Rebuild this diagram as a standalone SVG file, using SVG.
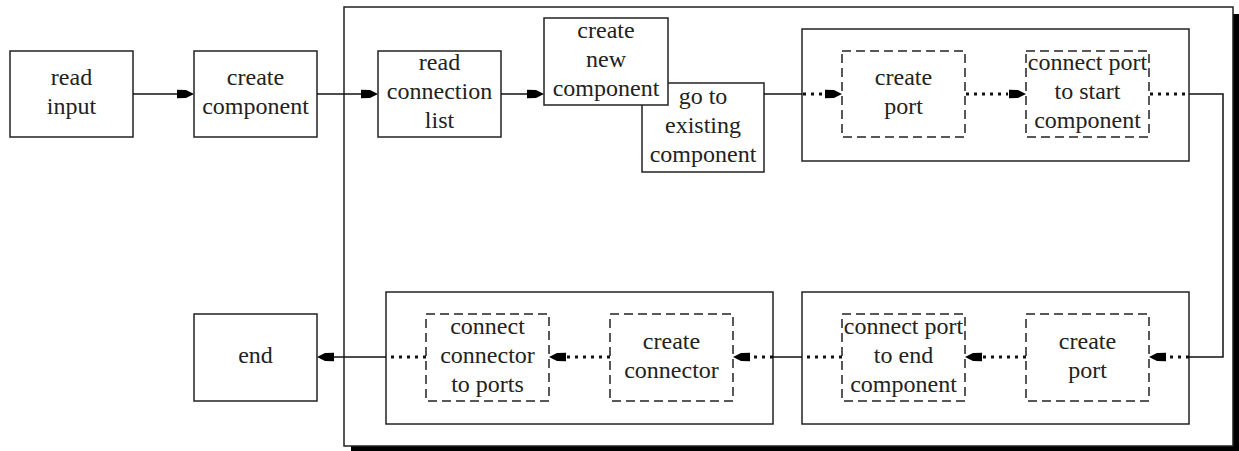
<svg xmlns="http://www.w3.org/2000/svg" width="1239" height="451" viewBox="0 0 1239 451">
<style>
.box{fill:#fff;stroke:#222;stroke-width:1.5}
.dbox{fill:#fff;stroke:#222;stroke-width:1.5;stroke-dasharray:9 5}
text{font-family:'Liberation Serif','DejaVu Serif',serif;font-size:24px;fill:#222;text-anchor:middle}
.e{fill:none;stroke:#111;stroke-width:1.5}
.d{fill:none;stroke:#111;stroke-width:3;stroke-dasharray:3 5}
.ah{fill:#000}
</style>
<defs>
<path id="ah" class="ah" d="M0,0 L-8,-4 L-17,-4.2 L-17,4.2 L-8,4 Z"/>
</defs>
<g id="outer">
<rect x="351" y="14" width="889" height="438" fill="#000"/>
<rect x="344" y="7" width="889" height="439" class="box"/>
</g>
<g id="group-top"><rect x="802" y="29" width="387" height="132" class="box"/></g>
<g id="group-bottom-left"><rect x="386" y="292" width="387" height="132" class="box"/></g>
<g id="group-bottom-right"><rect x="802" y="292" width="387" height="132" class="box"/></g>
<g id="read-input"><rect x="10" y="51" width="123" height="86" class="box"/>
<text x="71.5" y="85">read</text><text x="71.5" y="114">input</text></g>
<g id="create-component"><rect x="194" y="51" width="123" height="86" class="box"/>
<text x="255.5" y="85">create</text><text x="255.5" y="114">component</text></g>
<g id="read-connection-list"><rect x="378" y="51" width="123" height="86" class="box"/>
<text x="439.5" y="70">read</text><text x="439.5" y="99">connection</text><text x="439.5" y="128">list</text></g>
<g id="go-to-existing"><rect x="642" y="83" width="122" height="89" class="box"/>
<text x="703" y="104">go to</text><text x="703" y="133">existing</text><text x="703" y="162">component</text></g>
<g id="create-new-component"><rect x="544" y="18" width="124" height="87" class="box"/>
<text x="606" y="38">create</text><text x="606" y="67">new</text><text x="606" y="96">component</text></g>
<g id="create-port-1"><rect x="842" y="51" width="123" height="86" class="dbox"/>
<text x="903.5" y="85">create</text><text x="903.5" y="114">port</text></g>
<g id="connect-port-start"><rect x="1026" y="51" width="123" height="86" class="dbox"/>
<text x="1087.5" y="70">connect port</text><text x="1087.5" y="99">to start</text><text x="1087.5" y="128">component</text></g>
<g id="end"><rect x="194" y="314" width="123" height="87" class="box"/>
<text x="255.5" y="363">end</text></g>
<g id="connect-connector"><rect x="426" y="314" width="123" height="87" class="dbox"/>
<text x="487.5" y="334">connect</text><text x="487.5" y="363">connector</text><text x="487.5" y="392">to ports</text></g>
<g id="create-connector"><rect x="610" y="314" width="123" height="87" class="dbox"/>
<text x="671.5" y="348.5">create</text><text x="671.5" y="377.5">connector</text></g>
<g id="connect-port-end"><rect x="842" y="314" width="123" height="87" class="dbox"/>
<text x="903.5" y="334">connect port</text><text x="903.5" y="363">to end</text><text x="903.5" y="392">component</text></g>
<g id="create-port-2"><rect x="1026" y="314" width="123" height="87" class="dbox"/>
<text x="1087.5" y="348.5">create</text><text x="1087.5" y="377.5">port</text></g>
<g id="connectors">
<path class="e" d="M133,94 H178"/><use href="#ah" transform="translate(194,94)"/>
<path class="e" d="M317,94 H362"/><use href="#ah" transform="translate(378,94)"/>
<path class="e" d="M501,94 H528"/><use href="#ah" transform="translate(544,94)"/>
<path class="e" d="M764,94 H802"/>
<path class="d" d="M803,94 H822"/><use href="#ah" transform="translate(842,94)"/>
<path class="d" d="M966,94 H1008"/><use href="#ah" transform="translate(1026,94)"/>
<path class="d" d="M1150,94 H1189"/>
<path class="e" d="M1189,94 H1223 V357 H1189"/>
<path class="d" d="M1189,357 H1166"/><use href="#ah" transform="translate(1149,357) rotate(180)"/>
<path class="d" d="M1026,357 H983"/><use href="#ah" transform="translate(965,357) rotate(180)"/>
<path class="d" d="M842,357 H802"/>
<path class="e" d="M802,357 H773"/>
<path class="d" d="M773,357 H750"/><use href="#ah" transform="translate(733,357) rotate(180)"/>
<path class="d" d="M610,357 H567"/><use href="#ah" transform="translate(549,357) rotate(180)"/>
<path class="d" d="M426,357 H386"/>
<path class="e" d="M386,357 H333"/><use href="#ah" transform="translate(317,357) rotate(180)"/>
</g>
</svg>
